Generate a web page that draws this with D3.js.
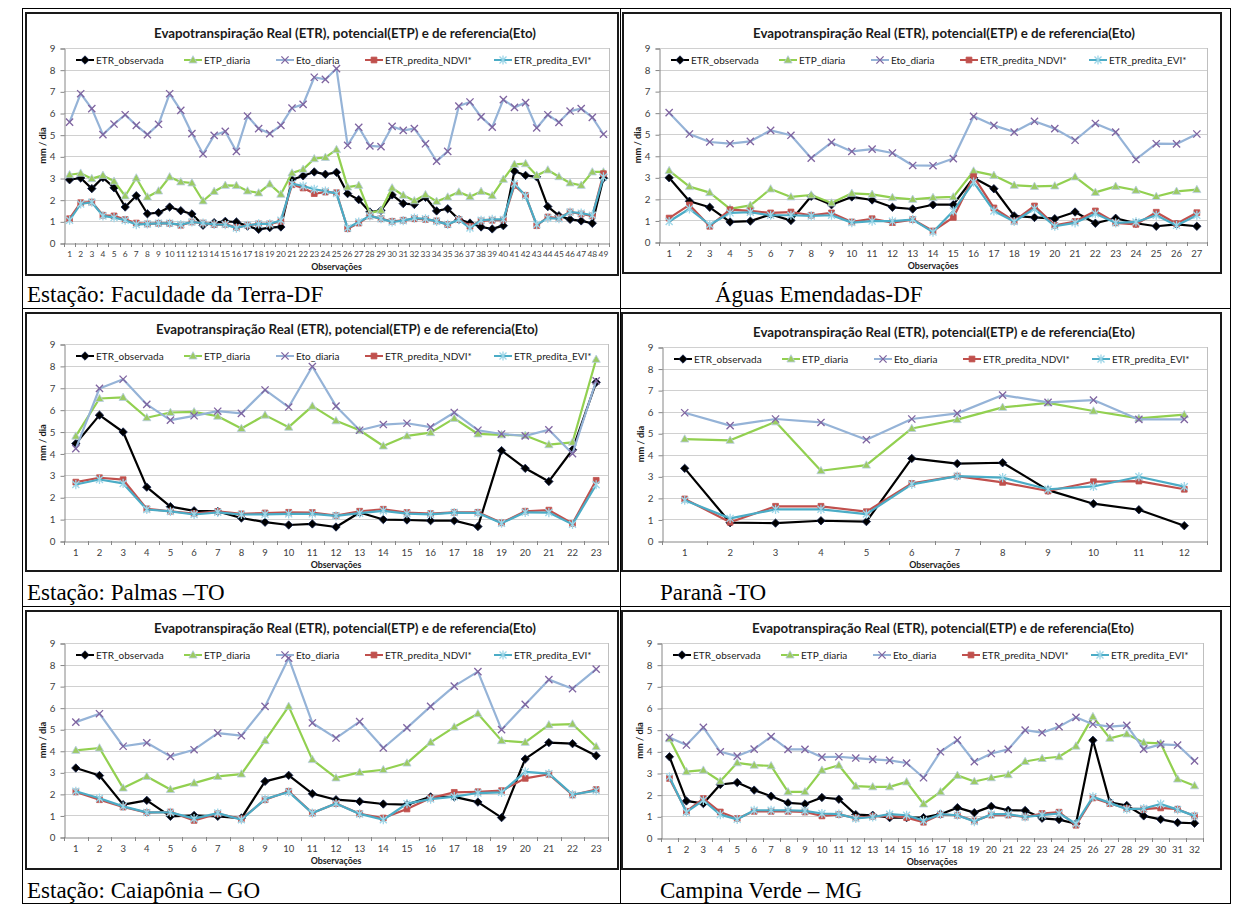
<!DOCTYPE html>
<html>
<head>
<meta charset="utf-8">
<script src="https://cdn.jsdelivr.net/npm/d3@7"></script>
<style>
  html, body { margin: 0; padding: 0; background: #fff; }
  svg { display: block; }
</style>
</head>
<body>
<svg id="fig" width="1236" height="906"></svg>
<script>
// ---- shared labels -------------------------------------------------------
const seriesNames = ["ETR_observada", "ETP_diaria", "Eto_diaria", "ETR_predita_NDVI*", "ETR_predita_EVI*"];
const chartTitle = "Evapotranspiração Real (ETR), potencial(ETP) e de referencia(Eto)";
const yAxisTitle = "mm / dia";
const xAxisTitle = "Observações";
const yTicks = [0, 1, 2, 3, 4, 5, 6, 7, 8, 9];
const stationCaptions = [
  "Estação: Faculdade da Terra-DF",
  "Águas Emendadas-DF",
  "Estação: Palmas –TO",
  "Paranã -TO",
  "Estação: Caiapônia – GO",
  "Campina Verde – MG"
];

// ---- Faculdade da Terra-DF (49 observações) -------------------------------
const ftObs  = [2.92,3.0,2.51,3.02,2.55,1.66,2.18,1.35,1.4,1.66,1.49,1.34,0.82,0.94,1.0,0.97,0.78,0.63,0.71,0.74,2.92,3.1,3.28,3.17,3.26,2.28,2.0,1.43,1.5,2.22,1.82,1.78,2.11,1.48,1.58,1.09,0.92,0.74,0.65,0.8,3.32,3.12,3.05,1.68,1.26,1.09,1.02,0.91,3.0];
const ftEtp  = [3.15,3.22,2.97,3.12,2.85,2.17,3.0,2.12,2.4,3.05,2.82,2.77,1.94,2.38,2.66,2.65,2.4,2.31,2.72,2.25,3.23,3.4,3.89,3.95,4.31,2.58,2.66,1.38,1.51,2.54,2.2,1.95,2.23,1.92,2.12,2.35,2.14,2.38,2.18,2.94,3.63,3.66,3.12,3.37,3.06,2.77,2.66,3.28,3.28];
const ftEto  = [5.58,6.89,6.2,5.0,5.49,5.92,5.43,5.0,5.48,6.89,6.12,5.05,4.11,4.97,5.15,4.23,5.86,5.28,5.05,5.43,6.23,6.4,7.65,7.55,8.05,4.51,5.34,4.48,4.45,5.38,5.2,5.28,4.58,3.78,4.23,6.32,6.51,5.82,5.35,6.62,6.26,6.48,5.31,5.92,5.57,6.09,6.2,5.8,5.02];
const ftNdvi = [1.12,1.86,1.89,1.28,1.25,1.08,0.92,0.88,0.91,0.91,0.82,0.97,0.92,0.85,0.86,0.72,0.82,0.88,0.88,1.0,2.69,2.54,2.28,2.35,2.32,0.66,0.92,1.25,1.12,1.0,1.05,1.12,1.09,1.02,0.85,1.09,0.77,1.02,1.05,1.06,2.66,2.2,0.8,1.2,1.15,1.43,1.34,1.25,3.2];
const ftEvi  = [1.05,1.8,1.88,1.25,1.17,1.05,0.85,0.88,0.91,0.91,0.85,0.97,0.92,0.86,0.85,0.69,0.82,0.88,0.88,1.05,2.74,2.63,2.48,2.4,2.28,0.69,0.97,1.25,1.12,0.97,1.03,1.15,1.12,1.0,0.86,1.08,0.69,1.05,1.09,1.09,2.74,2.17,0.85,1.15,1.12,1.43,1.38,1.28,3.05];

// ---- Águas Emendadas-DF (27 observações) ----------------------------------
const aeObs  = [2.98,1.89,1.61,0.93,0.97,1.28,1.0,2.12,1.73,2.09,1.95,1.61,1.53,1.73,1.73,2.98,2.47,1.21,1.14,1.08,1.39,0.87,1.1,0.87,0.73,0.82,0.73];
const aeEtp  = [3.31,2.57,2.29,1.54,1.7,2.46,2.09,2.18,1.81,2.26,2.21,2.06,1.98,2.06,2.09,3.29,3.09,2.63,2.58,2.6,3.02,2.3,2.58,2.4,2.11,2.35,2.43];
const aeEto  = [6.0,5.01,4.64,4.56,4.67,5.18,4.95,3.89,4.62,4.2,4.31,4.13,3.55,3.54,3.87,5.83,5.41,5.1,5.6,5.26,4.72,5.5,5.1,3.83,4.56,4.55,5.01];
const aeNdvi = [1.11,1.72,0.73,1.5,1.44,1.35,1.39,1.24,1.35,0.93,1.08,0.9,1.04,0.51,1.14,3.03,1.58,0.97,1.67,0.77,0.95,1.44,0.89,0.82,1.38,0.85,1.36];
const aeEvi  = [0.95,1.54,0.8,1.35,1.38,1.24,1.24,1.21,1.24,0.9,0.97,0.97,1.04,0.46,1.44,2.78,1.44,0.95,1.54,0.73,0.89,1.31,0.89,0.93,1.24,0.77,1.24];

// ---- Palmas-TO (23 observações) -------------------------------------------
const pmObs  = [4.45,5.75,4.98,2.46,1.57,1.38,1.35,1.05,0.86,0.73,0.78,0.64,1.3,0.98,0.96,0.93,0.93,0.66,4.13,3.32,2.72,4.17,7.25];
const pmEtp  = [4.79,6.51,6.56,5.63,5.87,5.9,5.7,5.14,5.75,5.2,6.16,5.49,5.06,4.34,4.8,4.95,5.6,4.89,4.85,4.82,4.4,4.51,8.3];
const pmEto  = [4.22,6.97,7.39,6.24,5.52,5.72,5.93,5.83,6.9,6.12,7.97,6.16,5.06,5.32,5.38,5.2,5.87,5.06,4.89,4.8,5.08,3.99,7.32];
const pmNdvi = [2.69,2.89,2.8,1.47,1.36,1.25,1.35,1.24,1.28,1.31,1.3,1.16,1.36,1.45,1.3,1.25,1.31,1.31,0.83,1.36,1.41,0.8,2.77];
const pmEvi  = [2.58,2.81,2.63,1.44,1.35,1.21,1.31,1.21,1.22,1.24,1.24,1.15,1.27,1.38,1.25,1.22,1.3,1.28,0.81,1.31,1.3,0.76,2.57];

// ---- Paranã-TO (12 observações) -------------------------------------------
const prObs  = [3.37,0.85,0.83,0.94,0.9,3.83,3.59,3.63,2.36,1.73,1.45,0.71];
const prEtp  = [4.73,4.67,5.53,3.26,3.52,5.22,5.63,6.2,6.41,6.03,5.69,5.86];
const prEto  = [5.95,5.35,5.66,5.5,4.7,5.66,5.92,6.77,6.43,6.54,5.64,5.64];
const prNdvi = [1.95,0.87,1.61,1.61,1.36,2.67,3.01,2.72,2.32,2.75,2.78,2.4];
const prEvi  = [1.89,1.05,1.47,1.47,1.25,2.63,3.01,2.94,2.4,2.53,2.98,2.52];

// ---- Caiapônia-GO (23 observações) ----------------------------------------
const cgObs  = [3.2,2.85,1.5,1.7,0.96,1.0,0.96,0.88,2.58,2.86,2.01,1.73,1.65,1.53,1.5,1.86,1.86,1.62,0.9,3.62,4.38,4.33,3.77];
const cgEtp  = [4.02,4.13,2.27,2.81,2.2,2.5,2.81,2.92,4.47,6.06,3.59,2.74,3.0,3.12,3.43,4.39,5.1,5.72,4.47,4.39,5.2,5.24,4.19];
const cgEto  = [5.33,5.72,4.21,4.37,3.74,4.05,4.82,4.7,6.06,8.3,5.29,4.59,5.35,4.13,5.06,6.06,7.0,7.67,4.98,6.15,7.3,6.88,7.79];
const cgNdvi = [2.09,1.73,1.39,1.13,1.16,0.77,1.08,0.84,1.73,2.12,1.11,1.55,1.08,0.88,1.3,1.81,2.07,2.1,2.15,2.72,2.91,1.95,2.2];
const cgEvi  = [2.12,1.8,1.42,1.14,1.14,0.85,1.11,0.8,1.76,2.09,1.11,1.55,1.07,0.8,1.55,1.76,1.87,2.04,2.07,3.02,2.94,1.97,2.15];

// ---- Campina Verde-MG (32 observações) ------------------------------------
const cvObs  = [3.75,1.71,1.59,2.47,2.56,2.21,1.93,1.62,1.57,1.87,1.79,1.08,1.05,0.94,0.94,0.94,1.1,1.4,1.17,1.46,1.28,1.27,0.91,0.85,0.66,4.51,1.65,1.5,1.02,0.86,0.71,0.68];
const cvEtp  = [4.58,3.06,3.13,2.62,3.47,3.36,3.33,2.13,2.13,3.13,3.36,2.39,2.36,2.36,2.59,1.57,2.13,2.89,2.61,2.78,2.92,3.53,3.67,3.75,4.24,5.6,4.6,4.8,4.4,4.37,2.72,2.41];
const cvEto  = [4.64,4.29,5.11,3.98,3.78,4.1,4.68,4.09,4.09,3.73,3.75,3.69,3.63,3.58,3.46,2.78,3.98,4.52,3.52,3.9,4.09,4.98,4.86,5.14,5.57,5.25,5.14,5.2,4.1,4.32,4.29,3.56];
const cvNdvi = [2.75,1.23,1.82,1.2,0.9,1.23,1.23,1.23,1.2,1.02,1.08,0.93,1.0,1.02,0.94,0.73,1.08,1.05,0.79,1.06,1.06,0.97,1.13,1.19,0.59,1.85,1.59,1.36,1.33,1.39,1.33,1.02];
const cvEvi  = [2.82,1.19,1.74,1.08,0.86,1.28,1.28,1.28,1.25,1.13,1.1,0.9,0.97,1.1,1.05,0.8,1.1,1.05,0.76,1.1,1.1,0.97,1.06,1.13,0.66,1.9,1.62,1.33,1.36,1.57,1.31,1.02];

// ---- page layout (pixel geometry of each framed chart) --------------------
const panels = [
  { series: [ftObs, ftEtp, ftEto, ftNdvi, ftEvi], box: [26, 13, 618, 275], plot: [64, 48, 609, 243], titleX: 345, caption: [27, 302], xFont: 8.4 },
  { series: [aeObs, aeEtp, aeEto, aeNdvi, aeEvi], box: [623, 13, 1221, 273], plot: [659, 48, 1207, 242], titleX: 944, caption: [715, 302], xFont: 9.5 },
  { series: [pmObs, pmEtp, pmEto, pmNdvi, pmEvi], box: [26, 313, 618, 571], plot: [64, 344, 608, 541], titleX: 347, caption: [27, 600], xFont: 9.5 },
  { series: [prObs, prEtp, prEto, prNdvi, prEvi], box: [622, 313, 1221, 571], plot: [662, 347, 1207, 541], titleX: 944, caption: [660, 600], xFont: 9.5 },
  { series: [cgObs, cgEtp, cgEto, cgNdvi, cgEvi], box: [26, 611, 618, 869], plot: [64, 643, 608, 837], titleX: 345, caption: [27, 898], xFont: 9.5 },
  { series: [cvObs, cvEtp, cvEto, cvNdvi, cvEvi], box: [622, 611, 1221, 869], plot: [661, 643, 1203, 838], titleX: 943, caption: [660, 898], xFont: 9.5 }
];

// line colour, marker shape and marker colours for each series
const seriesStyle = [
  { line: "#000000", marker: "diamond",  fill: "#000000", stroke: "#10204a" },
  { line: "#92D050", marker: "triangle", fill: "#9CCB63", stroke: "#B8CCE4" },
  { line: "#95B3D7", marker: "cross",    fill: "none",    stroke: "#7F64A0" },
  { line: "#C0504D", marker: "square",   fill: "#C0504D", stroke: "#C0504D" },
  { line: "#4BACC6", marker: "asterisk", fill: "none",    stroke: "#9DD6E8" }
];
const legendOffsets = [12, 120, 212, 301, 430];
const FONT = "Lato, 'Open Sans', sans-serif";

const markerPaths = {
  diamond:  "M0,-4.2L4.2,0L0,4.2L-4.2,0Z",
  triangle: "M0,-4.3L4.1,3L-4.1,3Z",
  square:   "M-2.9,-2.9H2.9V2.9H-2.9Z",
  cross:    "M-3.6,-3.6L3.6,3.6M-3.6,3.6L3.6,-3.6",
  asterisk: "M-3.5,-3.5L3.5,3.5M-3.5,3.5L3.5,-3.5M0,-4.6L0,4.6"
};

const svg = d3.select("#fig");

// ---- Word-style table grid around the six charts ---------------------------
const grid = svg.append("g").attr("stroke", "#000").attr("stroke-width", 1).attr("fill", "none");
grid.append("rect").attr("x", 22.5).attr("y", 8.5).attr("width", 1208).attr("height", 895);
grid.append("line").attr("x1", 620.5).attr("x2", 620.5).attr("y1", 8.5).attr("y2", 903.5);
[308.5, 606.5].forEach(y => grid.append("line").attr("x1", 22.5).attr("x2", 1230.5).attr("y1", y).attr("y2", y));

function drawMarker(g, style, cx, cy) {
  g.append("path")
    .attr("d", markerPaths[style.marker])
    .attr("transform", `translate(${cx},${cy})`)
    .attr("fill", style.fill)
    .attr("stroke", style.stroke)
    .attr("stroke-width", style.marker === "cross" || style.marker === "asterisk" ? 1.3 : 0.8);
}

panels.forEach((p, pi) => {
  const g = svg.append("g");
  const [L, T, R, B] = p.plot;
  const n = p.series[0].length;
  const categories = d3.range(1, n + 1).map(String);

  const x = d3.scaleBand().domain(categories).range([L, R]);
  const y = d3.scaleLinear().domain([0, 9]).range([B, T]);

  // chart frame
  g.append("rect")
    .attr("x", p.box[0]).attr("y", p.box[1])
    .attr("width", p.box[2] - p.box[0]).attr("height", p.box[3] - p.box[1])
    .attr("fill", "#fff").attr("stroke", "#1a1a1a").attr("stroke-width", 2);

  // horizontal gridlines
  g.append("g").selectAll("line").data(yTicks.slice(1)).join("line")
    .attr("x1", L).attr("x2", R)
    .attr("y1", d => Math.round(y(d)) + 0.5).attr("y2", d => Math.round(y(d)) + 0.5)
    .attr("stroke", "#D0D0D0").attr("stroke-width", 1);

  // plot-area right edge
  g.append("line").attr("x1", R + 0.5).attr("x2", R + 0.5).attr("y1", T).attr("y2", B)
    .attr("stroke", "#BFBFBF");

  // y axis
  const yAxis = d3.axisLeft(y).tickValues(yTicks).tickSize(4).tickPadding(5).tickFormat(d3.format("d"));
  const ya = g.append("g").attr("transform", `translate(${L + 0.5},0.5)`).call(yAxis);
  ya.select(".domain").attr("stroke", "#868686");
  ya.selectAll(".tick line").attr("stroke", "#868686");
  ya.selectAll("text").attr("font-family", FONT).attr("font-size", 9.8).attr("fill", "#404040");

  // x axis: labels centred on categories, ticks on category boundaries
  const xAxis = d3.axisBottom(x).tickSize(0).tickPadding(8);
  const xa = g.append("g").attr("transform", `translate(0,${B + 0.5})`).call(xAxis);
  xa.select(".domain").attr("stroke", "#868686");
  xa.selectAll("text").attr("font-family", FONT).attr("font-size", p.xFont).attr("fill", "#404040");
  const bounds = categories.map(c => x(c)).concat([R]);
  g.append("g").selectAll("line").data(bounds).join("line")
    .attr("x1", d => Math.round(d) + 0.5).attr("x2", d => Math.round(d) + 0.5)
    .attr("y1", B).attr("y2", B + 4)
    .attr("stroke", "#868686");

  // axis titles
  g.append("text")
    .attr("transform", `translate(${L - 18},${(T + B) / 2}) rotate(-90)`)
    .attr("text-anchor", "middle")
    .attr("font-family", FONT).attr("font-size", 9.2).attr("font-weight", "bold").attr("fill", "#1a1a1a")
    .text(yAxisTitle);
  g.append("text")
    .attr("x", (L + R) / 2).attr("y", B + 27)
    .attr("text-anchor", "middle")
    .attr("font-family", FONT).attr("font-size", 8.8).attr("font-weight", "bold").attr("fill", "#1a1a1a")
    .text(xAxisTitle);

  // chart title
  g.append("text")
    .attr("x", p.titleX).attr("y", T - 10)
    .attr("text-anchor", "middle")
    .attr("font-family", FONT).attr("font-size", 13.3).attr("font-weight", "bold").attr("fill", "#1a1a1a")
    .text(chartTitle);

  // series lines and markers
  const line = d3.line()
    .x((d, i) => x(categories[i]) + x.bandwidth() / 2)
    .y(d => y(d));
  p.series.forEach((vals, si) => {
    const st = seriesStyle[si];
    g.append("path").datum(vals)
      .attr("d", line)
      .attr("fill", "none")
      .attr("stroke", st.line)
      .attr("stroke-width", 2.2)
      .attr("stroke-linejoin", "round");
    const mg = g.append("g");
    vals.forEach((v, i) => drawMarker(mg, st, x(categories[i]) + x.bandwidth() / 2, y(v)));
  });

  // legend row
  const ly = T + 12;
  seriesNames.forEach((name, si) => {
    const st = seriesStyle[si];
    const lx = L + legendOffsets[si];
    g.append("line").attr("x1", lx).attr("x2", lx + 18).attr("y1", ly).attr("y2", ly)
      .attr("stroke", st.line).attr("stroke-width", 2);
    drawMarker(g, st, lx + 9, ly);
    g.append("text")
      .attr("x", lx + 20).attr("y", ly + 3.5)
      .attr("font-family", FONT).attr("font-size", 10).attr("fill", "#1a1a1a")
      .text(name);
  });

  // station caption under the chart
  svg.append("text")
    .attr("x", p.caption[0]).attr("y", p.caption[1])
    .attr("font-family", "'Liberation Serif', 'Times New Roman', serif")
    .attr("font-size", 23).attr("fill", "#000")
    .text(stationCaptions[pi]);
});
</script>
</body>
</html>
